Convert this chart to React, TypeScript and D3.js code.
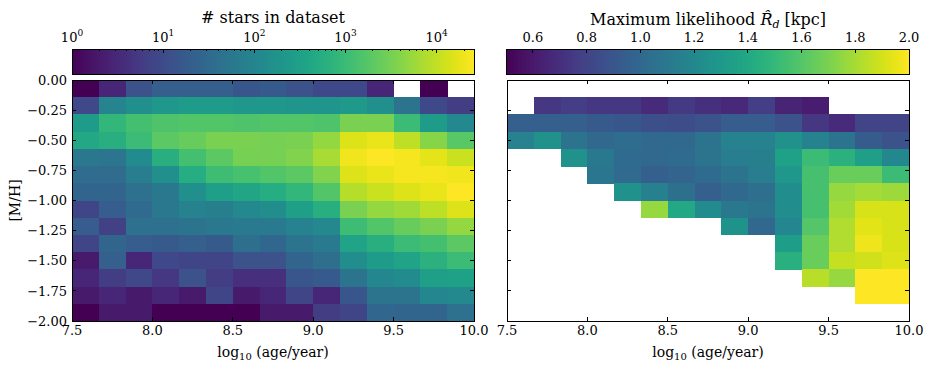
import React, { useEffect, useRef } from "react";
import * as d3 from "d3";

// age bins: 7.5 .. 10.0 in 15 bins, [M/H] bins: 0 .. -2 in 14 bins (rows listed top to bottom)
const ageRange = [7.5, 10.0];
const metRange = [0.0, -2.0];
const nAge = 15;
const nMet = 14;

const xTicks = [7.5, 8.0, 8.5, 9.0, 9.5, 10.0];
const yTicks = [0, -0.25, -0.5, -0.75, -1.0, -1.25, -1.5, -1.75, -2.0];
const countTicks = [1, 10, 100, 1000, 10000];
const rdTicks = [0.6, 0.8, 1.0, 1.2, 1.4, 1.6, 1.8, 2.0];

// number of stars per bin (null = empty)
const counts = [
  [1, 3, 13, 21, 21, 21, 15, 17, 13, 9, 9, 3, null, 1, null],
  [9, 96, 160, 218, 265, 265, 218, 218, 196, 196, 240, 160, 47, 9, 6],
  [265, 810, 1220, 1490, 1650, 1650, 1490, 1650, 1650, 1490, 3340, 3340, 995, 265, 118],
  [440, 598, 995, 2020, 2470, 3340, 3340, 3020, 3340, 5010, 15200, 18600, 9180, 4090, 1820],
  [58, 52, 131, 598, 1220, 2020, 3020, 3020, 3700, 6780, 20600, 25700, 22800, 16800, 11200],
  [35, 35, 71, 160, 540, 1100, 1350, 1650, 2020, 3700, 15200, 18600, 22800, 22800, 20600],
  [26, 26, 43, 58, 160, 294, 398, 540, 810, 1650, 8300, 11200, 15200, 18600, 25700],
  [8, 19, 32, 58, 87, 78, 118, 145, 294, 598, 3340, 5010, 6130, 9180, 15200],
  [19, 7, 43, 43, 47, 58, 64, 64, 87, 118, 1100, 1650, 2470, 3340, 5010],
  [8, 26, 19, 17, 21, 17, 39, 28, 47, 64, 360, 598, 995, 1220, 2020],
  [2, 21, 3, 9, 8, 8, 13, 13, 26, 39, 145, 265, 360, 660, 995],
  [3, 6, 9, 5, 13, 6, 4, 4, 15, 17, 47, 107, 131, 294, 325],
  [2, 3, 2, 3, 2, 8, 2, 3, 8, 3, 15, 47, 47, 107, 118],
  [1, 2, 2, 1, 1, 1, 1, 2, 2, 6, 8, 28, 26, 26, 43],
];

// maximum likelihood scale length R_d in kpc (null = no fit)
const _ = null;
const rd = [
  [_, _, _, _, _, _, _, _, _, _, _, _, _, _, _],
  [_, 0.74, 0.77, 0.74, 0.74, 0.68, 0.755, 0.71, 0.67, 0.77, 0.65, 0.62, _, _, _],
  [0.95, 0.95, 0.95, 0.92, 0.9, 0.86, 0.85, 0.875, 0.935, 0.935, 0.875, 0.74, 0.68, 0.8, 0.8],
  [1.16, 1.25, 1.07, 1.0, 1.03, 1.0, 1.0, 1.07, 1.16, 1.16, 1.25, 1.16, 1.07, 0.93, 0.875],
  [_, _, 1.25, 1.1, 1.02, 1.0, 1.02, 1.07, 1.13, 1.14, 1.35, 1.52, 1.46, 1.34, 1.2],
  [_, _, _, 1.09, 1.01, 0.95, 0.98, 1.02, 1.07, 1.13, 1.3, 1.56, 1.66, 1.66, 1.52],
  [_, _, _, _, 1.25, 1.15, 1.05, 0.95, 1.0, 1.04, 1.23, 1.56, 1.76, 1.8, 1.78],
  [_, _, _, _, _, 1.76, 1.4, 1.22, 1.1, 1.07, 1.23, 1.56, 1.79, 1.91, 1.91],
  [_, _, _, _, _, _, _, _, 1.26, 1.0, 1.19, 1.6, 1.82, 1.93, 1.91],
  [_, _, _, _, _, _, _, _, _, _, 1.33, 1.66, 1.82, 1.96, 1.91],
  [_, _, _, _, _, _, _, _, _, _, 1.45, 1.66, 1.87, 1.89, 1.92],
  [_, _, _, _, _, _, _, _, _, _, _, 1.84, 1.76, 2.0, 2.0],
  [_, _, _, _, _, _, _, _, _, _, _, _, _, 2.0, 2.0],
  [_, _, _, _, _, _, _, _, _, _, _, _, _, _, _],
];

const W = 931;
const H = 369;
const FONT = "DejaVu Serif";
const plotTop = 80;
const plotBottom = 321;
const cbTop = 49;
const cbBottom = 74;
const panels = [
  { x0: 72, x1: 474 },
  { x0: 507, x1: 909 },
];

export default function App() {
  const ref = useRef<SVGSVGElement>(null);

  useEffect(() => {
    const svg = d3.select(ref.current);
    svg.selectAll("*").remove();
    svg.style("font-family", FONT);

    const countColor = d3.scaleSequentialLog(d3.interpolateViridis).domain([1, 25700]);
    const rdColor = d3.scaleSequential(d3.interpolateViridis).domain([0.5, 2.0]);

    const ageEdges = d3.range(nAge + 1).map(i => ageRange[0] + (i * (ageRange[1] - ageRange[0])) / nAge);
    const metEdges = d3.range(nMet + 1).map(i => metRange[0] + (i * (metRange[1] - metRange[0])) / nMet);

    const defs = svg.append("defs");

    const drawPanel = (p: { x0: number; x1: number }, grid: (number | null)[][], color: (v: number) => string, yLabels: boolean) => {
      const x = d3.scaleLinear().domain(ageRange).range([p.x0, p.x1]);
      const y = d3.scaleLinear().domain(metRange).range([plotTop, plotBottom]);
      const g = svg.append("g");

      const cells: { i: number; j: number; v: number }[] = [];
      grid.forEach((row, i) => row.forEach((v, j) => { if (v != null) cells.push({ i, j, v }); }));

      g.selectAll("rect.cell")
        .data(cells)
        .join("rect")
        .attr("class", "cell")
        .attr("x", d => x(ageEdges[d.j]))
        .attr("y", d => y(metEdges[d.i]))
        .attr("width", d => x(ageEdges[d.j + 1]) - x(ageEdges[d.j]) + 0.5)
        .attr("height", d => y(metEdges[d.i + 1]) - y(metEdges[d.i]) + 0.5)
        .attr("fill", d => color(d.v));

      // ticks, inward on all four sides
      const tl = 4;
      xTicks.forEach(t => {
        g.append("line").attr("x1", x(t)).attr("x2", x(t)).attr("y1", plotBottom).attr("y2", plotBottom - tl).attr("stroke", "#000");
        g.append("line").attr("x1", x(t)).attr("x2", x(t)).attr("y1", plotTop).attr("y2", plotTop + tl).attr("stroke", "#000");
        g.append("text")
          .attr("x", x(t))
          .attr("y", 335)
          .attr("text-anchor", "middle")
          .style("font-size", "13px")
          .text(d3.format(".1f")(t));
      });
      yTicks.forEach(t => {
        g.append("line").attr("x1", p.x0).attr("x2", p.x0 + tl).attr("y1", y(t)).attr("y2", y(t)).attr("stroke", "#000");
        g.append("line").attr("x1", p.x1).attr("x2", p.x1 - tl).attr("y1", y(t)).attr("y2", y(t)).attr("stroke", "#000");
        if (yLabels) {
          g.append("text")
            .attr("x", p.x0 - 5)
            .attr("y", y(t))
            .attr("dy", "0.36em")
            .attr("text-anchor", "end")
            .style("font-size", "13px")
            .text(d3.format(".2f")(t));
        }
      });

      g.append("rect")
        .attr("x", p.x0)
        .attr("y", plotTop)
        .attr("width", p.x1 - p.x0)
        .attr("height", plotBottom - plotTop)
        .attr("fill", "none")
        .attr("stroke", "#000");

      const xl = g.append("text")
        .attr("x", (p.x0 + p.x1) / 2)
        .attr("y", 357)
        .attr("text-anchor", "middle")
        .style("font-size", "14px");
      xl.append("tspan").text("log");
      xl.append("tspan").attr("dy", 3).style("font-size", "10px").text("10");
      xl.append("tspan").attr("dy", -3).text(" (age/year)");
    };

    const drawColorbar = (p: { x0: number; x1: number }, id: string, color: (v: number) => string, scale: any, min: number, max: number, log: boolean) => {
      const grad = defs.append("linearGradient").attr("id", id);
      d3.range(0, 1.0001, 0.02).forEach(t => {
        const v = log ? Math.pow(10, Math.log10(min) + t * (Math.log10(max) - Math.log10(min))) : min + t * (max - min);
        grad.append("stop").attr("offset", t).attr("stop-color", color(v));
      });
      const g = svg.append("g");
      g.append("rect")
        .attr("x", p.x0)
        .attr("y", cbTop)
        .attr("width", p.x1 - p.x0)
        .attr("height", cbBottom - cbTop)
        .attr("fill", `url(#${id})`)
        .attr("stroke", "#000");
      return g;
    };

    drawPanel(panels[0], counts, countColor, true);
    drawPanel(panels[1], rd, rdColor, false);

    // colorbar 1: log counts
    const cbx1 = d3.scaleLog().domain([1, 25700]).range([panels[0].x0, panels[0].x1]);
    const cb1 = drawColorbar(panels[0], "cb1", countColor, cbx1, 1, 25700, true);
    const minor: number[] = [];
    [1, 10, 100, 1000, 10000].forEach(dec => d3.range(2, 10).forEach(m => { if (dec * m < 25700) minor.push(dec * m); }));
    minor.forEach(t => {
      cb1.append("line").attr("x1", cbx1(t)).attr("x2", cbx1(t)).attr("y1", cbTop).attr("y2", cbTop + 2).attr("stroke", "#000");
    });
    countTicks.forEach((t, k) => {
      cb1.append("line").attr("x1", cbx1(t)).attr("x2", cbx1(t)).attr("y1", cbTop).attr("y2", cbTop + 4).attr("stroke", "#000");
      const tx = cb1.append("text")
        .attr("x", cbx1(t))
        .attr("y", 42)
        .attr("text-anchor", "middle")
        .style("font-size", "13px");
      tx.append("tspan").text("10");
      tx.append("tspan").attr("dy", -6).style("font-size", "9px").text(String(k));
    });
    cb1.append("text")
      .attr("x", (panels[0].x0 + panels[0].x1) / 2)
      .attr("y", 23)
      .attr("text-anchor", "middle")
      .style("font-size", "16px")
      .text("# stars in dataset");

    // colorbar 2: R_d
    const cbx2 = d3.scaleLinear().domain([0.5, 2.0]).range([panels[1].x0 - 1, panels[1].x1]);
    const cb2 = drawColorbar({ x0: panels[1].x0 - 1, x1: panels[1].x1 }, "cb2", rdColor, cbx2, 0.5, 2.0, false);
    rdTicks.forEach(t => {
      cb2.append("line").attr("x1", cbx2(t)).attr("x2", cbx2(t)).attr("y1", cbTop).attr("y2", cbTop + 4).attr("stroke", "#000");
      cb2.append("text")
        .attr("x", cbx2(t))
        .attr("y", 42)
        .attr("text-anchor", "middle")
        .style("font-size", "13px")
        .text(d3.format(".1f")(t));
    });
    const t2 = cb2.append("text")
      .attr("x", (panels[1].x0 + panels[1].x1) / 2)
      .attr("y", 25)
      .attr("text-anchor", "middle")
      .style("font-size", "16px");
    t2.append("tspan").text("Maximum likelihood ");
    t2.append("tspan").style("font-style", "italic").text("R\u0302");
    t2.append("tspan").attr("dy", 3).style("font-size", "11px").style("font-style", "italic").text("d");
    t2.append("tspan").attr("dy", -3).text(" [kpc]");

    // y label
    svg.append("text")
      .attr("transform", `translate(20,${(plotTop + plotBottom) / 2}) rotate(-90)`)
      .attr("text-anchor", "middle")
      .style("font-size", "14px")
      .text("[M/H]");
  }, []);

  return (
    <svg
      ref={ref}
      width={W}
      height={H}
      style={{ position: "absolute", left: 0, top: 0, background: "#fff" }}
      shapeRendering="crispEdges"
    />
  );
}
